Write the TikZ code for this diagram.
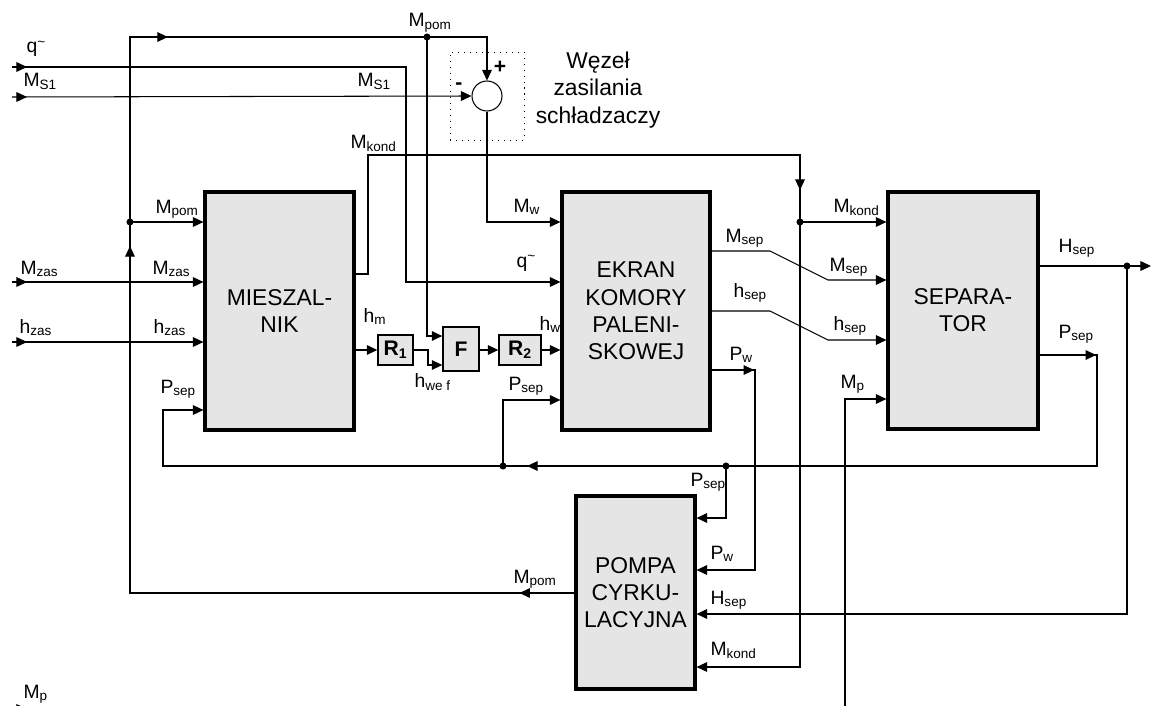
\documentclass[tikz,border=0pt]{standalone}
\usepackage{fontspec}
\setmainfont{Liberation Sans}
\usetikzlibrary{arrows.meta, decorations.markings}
\newcommand{\lsub}[1]{\textsubscript{#1}}
\newcommand{\qtl}{q\textsuperscript{\textasciitilde}}

\begin{document}
\begin{tikzpicture}[
    x=0.02cm, y=-0.02cm,
    >={Triangle[length=6pt,width=5.5pt]},
    line width=0.6pt,
    blk/.style={draw, line width=1.8pt, fill=black!10, align=center, inner sep=2pt, font=\fontsize{13}{15.5}\selectfont},
    smallblk/.style={draw, line width=0.8pt, fill=black!10, inner sep=0pt, font=\fontsize{12}{14}\selectfont\bfseries},
    lbl/.style={anchor=base west, inner sep=0pt, font=\fontsize{11}{13}\selectfont},
    dot/.style={circle, fill, inner sep=0pt, minimum size=4pt},
    arrowat/.style={postaction={decorate, decoration={markings, mark=at position #1 with {\arrow{>}}}}}
]
\useasboundingbox (0,0) rectangle (1152,706);

\node[blk, minimum width=2.98cm, minimum height=4.76cm] (mix) at (279.5,311) {MIESZAL-\\NIK};
\node[blk, minimum width=2.96cm, minimum height=4.76cm] (ekran) at (636,311) {EKRAN\\KOMORY\\PALENI-\\SKOWEJ};
\node[blk, minimum width=3cm, minimum height=4.74cm] (sep) at (963,310.5) {SEPARA-\\TOR};
\node[blk, minimum width=2.38cm, minimum height=3.86cm] (pompa) at (635.5,592.5) {POMPA\\CYRKU-\\LACYJNA};

\node[smallblk, minimum width=0.7cm, minimum height=0.6cm] (r1) at (395.5,350) {R\lsub{1}};
\node[smallblk, minimum width=0.72cm, minimum height=0.88cm] (f) at (461,349) {F};
\node[smallblk, minimum width=0.84cm, minimum height=0.6cm] (r2) at (520,350) {R\lsub{2}};

\node[draw, line width=0.5pt, dash pattern=on 0.6pt off 2.8pt, minimum width=1.48cm, minimum height=1.76cm] (sumframe) at (487,96) {};
\node[draw, circle, fill=white, minimum size=0.6cm, inner sep=0pt] (sum) at (487,96) {};

\coordinate (in-q) at (12,67);
\coordinate (in-ms) at (12,97);
\coordinate (in-mzas) at (12,282);
\coordinate (in-hzas) at (12,342);
\coordinate (in-mp) at (12,709);
\coordinate (out-hsep) at (1151,266);

\node[dot] (d-pom) at (130,222) {};
\node[dot] (d-top) at (427,37) {};
\node[dot] (d-kond) at (800,222) {};
\node[dot] (d-hsep) at (1127,266) {};
\node[dot] (d-psep1) at (503,466) {};
\node[dot] (d-psep2) at (726,466) {};

\draw[->, arrowat=0.3cm] (in-q) -- (406,67) -- (406,282) -- (ekran.west |- 0,282);
\draw[->, arrowat=0.3cm] (in-ms) -- (sum.west);
\draw[->, arrowat=0.3cm] (in-mzas) -- (mix.west |- in-mzas);
\draw[->, arrowat=0.3cm] (in-hzas) -- (mix.west |- in-hzas);
\draw[->, arrowat=1.1cm, arrowat=15.83cm, arrowat=20.77cm] (pompa.west |- 0,593) -- (130,593) -- (130,37) -- (sum.north |- 0,37) -- (sum.north);
\draw[->] (d-pom.center) -- (mix.west |- d-pom);
\draw[->] (d-top.center) -- (d-top |- 0,336) -- (f.west |- 0,336);
\draw[->] (sum.south) -- (sum.south |- 0,222) -- (ekran.west |- 0,222);
\draw[->, arrowat=11.97cm] (mix.east |- 0,274) -- (368,274) -- (368,155) -- (800,155) -- (800,667) -- (pompa.east |- 0,667);
\draw[->] (d-kond.center) -- (sep.west |- d-kond);
\draw[->] (mix.east |- r1.west) -- (r1.west);
\draw[->] (r1.east) -- (428,350) -- (428,365) -- (f.west |- 0,365);
\draw[->] (f.east |- r2) -- (r2.west);
\draw[->] (r2.east) -- (ekran.west |- r2);
\draw[->] (ekran.east |- 0,251) -- (770,251) -- (828,280) -- (sep.west |- 0,280);
\draw[->] (ekran.east |- 0,311) -- (770,311) -- (828,340) -- (sep.west |- 0,340);
\draw[->, arrowat=0.85cm] (ekran.east |- 0,370) -- (755,370) -- (755,570) -- (pompa.east |- 0,570);
\draw[->] (sep.east |- d-hsep) -- (out-hsep);
\draw[->] (d-hsep.center) -- (d-hsep |- 0,614) -- (pompa.east |- 0,614);
\draw[->, arrowat=1.13cm, arrowat=14.77cm] (sep.east |- 0,355) -- (1097,355) -- (1097,466) -- (163,466) -- (163,410) -- (mix.west |- 0,410);
\draw[->] (d-psep1.center) -- (d-psep1 |- 0,400) -- (ekran.west |- 0,400);
\draw[->] (d-psep2.center) -- (d-psep2 |- 0,518) -- (pompa.east |- 0,518);
\draw[->, arrowat=0.3cm] (in-mp) -- (845,709) -- (845,399) -- (sep.west |- 0,399);

\node[lbl] (t-qin) at (26,53) {\qtl};
\node[lbl] (t-ms1) at (23,87) {M\lsub{S1}};
\node[lbl] (t-ms2) at (357,87) {M\lsub{S1}};
\node[lbl] (t-pomtop) at (408,27) {M\lsub{pom}};
\node[lbl, anchor=center, font=\fontsize{12}{14}\selectfont\bfseries] (t-plus) at (500,67) {+};
\node[lbl, anchor=center, font=\fontsize{12}{14}\selectfont\bfseries] (t-minus) at (459,86) {-};
\node[align=center, inner sep=0pt, font=\fontsize{13}{15.5}\selectfont] (t-wezel) at (598,90) {Węzeł\\zasilania\\schładzaczy};
\node[lbl] (t-kond1) at (350,148) {M\lsub{kond}};
\node[lbl] (t-pom1) at (155,213) {M\lsub{pom}};
\node[lbl] (t-zas1) at (20,274) {M\lsub{zas}};
\node[lbl] (t-zas2) at (152,274) {M\lsub{zas}};
\node[lbl] (t-hzas1) at (19,333) {h\lsub{zas}};
\node[lbl] (t-hzas2) at (153,333) {h\lsub{zas}};
\node[lbl] (t-psep1) at (160,393) {P\lsub{sep}};
\node[lbl] (t-hm) at (363,322) {h\lsub{m}};
\node[lbl] (t-hwef) at (414,387) {h\lsub{we f}};
\node[lbl] (t-mw) at (513,212) {M\lsub{w}};
\node[lbl] (t-qek) at (516,267) {\qtl};
\node[lbl] (t-hw) at (539,330) {h\lsub{w}};
\node[lbl] (t-psep2) at (508,390) {P\lsub{sep}};
\node[lbl] (t-msep1) at (725,242) {M\lsub{sep}};
\node[lbl] (t-msep2) at (829,271) {M\lsub{sep}};
\node[lbl] (t-hsep1) at (733,297) {h\lsub{sep}};
\node[lbl] (t-hsep2) at (833,330) {h\lsub{sep}};
\node[lbl] (t-pw1) at (729,360) {P\lsub{w}};
\node[lbl] (t-kond2) at (833,212) {M\lsub{kond}};
\node[lbl] (t-mp1) at (840,388) {M\lsub{p}};
\node[lbl] (t-hsep3) at (1058,252) {H\lsub{sep}};
\node[lbl] (t-psep3) at (1058,338) {P\lsub{sep}};
\node[lbl] (t-psep4) at (690,486) {P\lsub{sep}};
\node[lbl] (t-pw2) at (710,559) {P\lsub{w}};
\node[lbl] (t-hsep4) at (710,604) {H\lsub{sep}};
\node[lbl] (t-kond3) at (710,655) {M\lsub{kond}};
\node[lbl] (t-pom2) at (513,583) {M\lsub{pom}};
\node[lbl] (t-mp2) at (23,698) {M\lsub{p}};
\end{tikzpicture}
\end{document}
